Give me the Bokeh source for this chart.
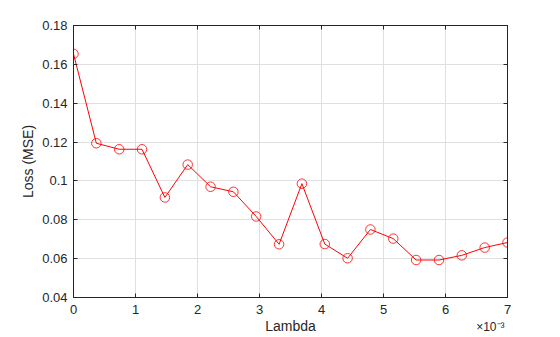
from bokeh.plotting import figure
from bokeh.models import LinearAxis, Label, Range1d, FixedTicker, CustomJSTickFormatter
from bokeh.embed import file_html
from bokeh.resources import INLINE

# Lambda in units of 1e-3
lam = [0, 0.368, 0.737, 1.105, 1.474, 1.842, 2.211, 2.579, 2.947, 3.316,
       3.684, 4.053, 4.421, 4.789, 5.158, 5.526, 5.895, 6.263, 6.632, 7.0]
loss = [0.1654, 0.1194, 0.1163, 0.1163, 0.0915, 0.1084, 0.0970, 0.0944, 0.0817, 0.0674,
        0.0986, 0.0675, 0.0602, 0.0750, 0.0703, 0.0593, 0.0593, 0.0617, 0.0657, 0.0683]
xticks = [0, 1, 2, 3, 4, 5, 6, 7]
yticks = [0.04, 0.06, 0.08, 0.10, 0.12, 0.14, 0.16, 0.18]
ytick_labels = {0.04: "0.04", 0.06: "0.06", 0.08: "0.08", 0.10: "0.1",
                0.12: "0.12", 0.14: "0.14", 0.16: "0.16", 0.18: "0.18"}

FONT = "Liberation Sans"
TXT = "#262626"

p = figure(width=560, height=337, output_backend="svg", toolbar_location=None,
           x_range=Range1d(0, 7), y_range=Range1d(0.04, 0.18),
           min_border_left=73, min_border_right=53, min_border_top=25, min_border_bottom=40)
p.background_fill_color = "white"
p.border_fill_color = "white"
p.outline_line_color = "#262626"
p.outline_line_width = 1

for ax in (p.xaxis[0], p.yaxis[0]):
    ax.major_tick_in = 4
    ax.major_tick_out = 0
    ax.minor_tick_in = 0
    ax.minor_tick_out = 0
    ax.axis_line_color = "#262626"
    ax.major_tick_line_color = "#262626"
    ax.major_label_text_font = FONT
    ax.major_label_text_font_size = "13px"
    ax.major_label_text_color = TXT
    ax.axis_label_text_font = FONT
    ax.axis_label_text_font_size = "14px"
    ax.axis_label_text_font_style = "normal"
    ax.axis_label_text_color = TXT

p.xaxis[0].ticker = FixedTicker(ticks=xticks)
p.yaxis[0].ticker = FixedTicker(ticks=yticks)
p.yaxis[0].major_label_overrides = ytick_labels
p.xaxis[0].axis_label = "Lambda"
p.yaxis[0].axis_label = "Loss (MSE)"
p.xaxis[0].major_label_standoff = 7
p.xaxis[0].axis_label_standoff = 1
p.yaxis[0].major_label_standoff = 6
p.yaxis[0].axis_label_standoff = 3

# Top and right axes with inward ticks, no labels
blank = CustomJSTickFormatter(code="return ''")
top = LinearAxis(ticker=FixedTicker(ticks=xticks), formatter=blank,
                 major_tick_in=4, major_tick_out=0, minor_tick_in=0, minor_tick_out=0,
                 axis_line_color="#262626", major_tick_line_color="#262626", major_label_standoff=0)
right = LinearAxis(ticker=FixedTicker(ticks=yticks), formatter=blank,
                   major_tick_in=4, major_tick_out=0, minor_tick_in=0, minor_tick_out=0,
                   axis_line_color="#262626", major_tick_line_color="#262626", major_label_standoff=0)
p.add_layout(top, "above")
p.add_layout(right, "right")

p.xgrid.ticker = FixedTicker(ticks=xticks)
p.ygrid.ticker = FixedTicker(ticks=yticks)
p.grid.grid_line_color = "#dfdfdf"
p.grid.grid_line_width = 1

p.line(lam, loss, line_color="red", line_width=1)
p.scatter(lam, loss, marker="circle", size=9.5, fill_color=None, line_color="red", line_width=0.8)

mult = Label(x=-3, y=-29, x_units="screen", y_units="screen", text="×10⁻³",
             text_align="right", text_baseline="middle",
             text_font=FONT, text_font_size="12px", text_color=TXT)
p.add_layout(mult, "right")

open("out.html", "w").write(file_html(p, INLINE))
